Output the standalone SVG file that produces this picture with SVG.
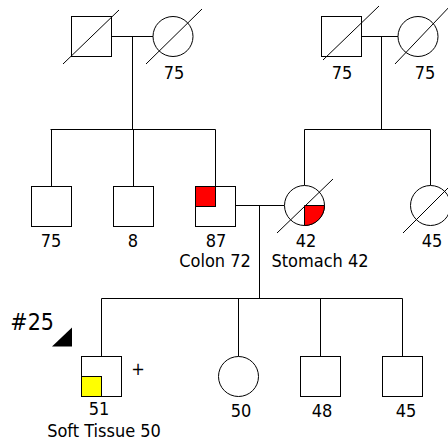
<svg xmlns="http://www.w3.org/2000/svg" width="448" height="441" viewBox="0 0 448 441">
<style>
.n{fill:#fff;stroke:#000;stroke-width:1}
.d{stroke:#000;stroke-width:1;fill:none}
.c{stroke:#000;stroke-width:1;fill:none}
text{font-family:"DejaVu Sans Condensed","DejaVu Sans",sans-serif;font-size:18px;fill:#000;font-stretch:condensed}
.m{text-anchor:middle}
</style>
<rect width="448" height="441" fill="#fff"/>
<g id="connectors" class="c">
<path d="M111.5,36.5H153M132.5,36.5V129.5M50.5,129.5H215.5M51.5,129.5V186.5M133.5,129.5V186.5M215.5,129.5V186.5"/>
<path d="M361.5,36.5H398M381.5,36.5V129.5M304.5,129.5H430.5M304.5,129.5V185.5M430.5,129.5V185.5"/>
<path d="M235.5,205.5H284.5M259.5,205.5V298.5M101.5,298.5H402.5M101.5,298.5V356.5M238.5,298.5V356.5M320.5,298.5V356.5M402.5,298.5V356.5"/>
</g>
<g id="gf1">
<rect class="n" x="71.5" y="16.5" width="40" height="40"/>
<line class="d" x1="63" y1="64" x2="119" y2="10"/>
</g>
<g id="gm1">
<circle class="n" cx="173" cy="36.5" r="20"/>
<line class="d" x1="146" y1="64" x2="202" y2="9"/>
<text class="m" x="174" y="79">75</text>
</g>
<g id="gf2">
<rect class="n" x="321.5" y="16.5" width="40" height="40"/>
<line class="d" x1="323" y1="60" x2="379" y2="6"/>
<text class="m" x="342" y="79">75</text>
</g>
<g id="gm2">
<circle class="n" cx="418" cy="36.5" r="20"/>
<line class="d" x1="395" y1="64" x2="452" y2="4"/>
<text class="m" x="425" y="79">75</text>
</g>
<g id="u1">
<rect class="n" x="31.5" y="186.5" width="40" height="40"/>
<text class="m" x="51" y="247">75</text>
</g>
<g id="u2">
<rect class="n" x="113.5" y="186.5" width="40" height="40"/>
<text class="m" x="133" y="247">8</text>
</g>
<g id="father">
<rect class="n" x="195.5" y="186.5" width="40" height="40"/>
<rect x="195.5" y="186.5" width="20" height="20" fill="#f00" stroke="#000"/>
<text class="m" x="216" y="247">87</text>
<text class="m" x="215" y="267">Colon 72</text>
</g>
<g id="mother">
<circle class="n" cx="304.5" cy="205.5" r="20"/>
<path d="M304.5,205.5H324.5A20,20 0 0 1 304.5,225.5Z" fill="#f00" stroke="#000"/>
<line class="d" x1="277" y1="233" x2="333" y2="179"/>
<text class="m" x="306" y="247">42</text>
<text class="m" x="320" y="267">Stomach 42</text>
</g>
<g id="aunt">
<circle class="n" cx="430.5" cy="205.5" r="20"/>
<line class="d" x1="403" y1="233" x2="459" y2="177"/>
<text class="m" x="432" y="247">45</text>
</g>
<g id="proband">
<text x="54" y="330" text-anchor="end" style="font-size:23px">#25</text>
<polygon points="52,346.5 72,327.5 72,346.5" fill="#000"/>
<rect class="n" x="81.5" y="356.5" width="40" height="40"/>
<rect x="81.5" y="376.5" width="20" height="20" fill="#ff0" stroke="#000"/>
<text class="m" x="138" y="375">+</text>
<text class="m" x="99" y="415">51</text>
<text class="m" x="104" y="437">Soft Tissue 50</text>
</g>
<g id="s1">
<circle class="n" cx="238.5" cy="376.5" r="20"/>
<text class="m" x="241" y="417">50</text>
</g>
<g id="s2">
<rect class="n" x="300.5" y="356.5" width="40" height="40"/>
<text class="m" x="322" y="417">48</text>
</g>
<g id="s3">
<rect class="n" x="382.5" y="356.5" width="40" height="40"/>
<text class="m" x="406" y="417">45</text>
</g>
</svg>
